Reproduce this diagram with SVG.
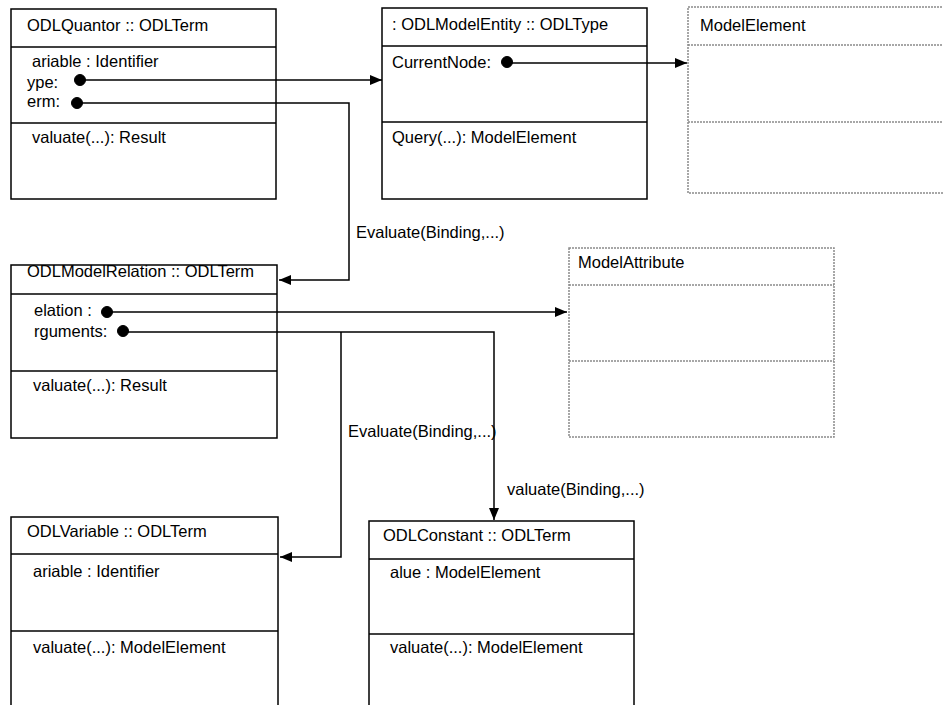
<svg xmlns="http://www.w3.org/2000/svg" width="943" height="705" viewBox="0 0 943 705">
<defs>
<style>
text{font-family:"Liberation Sans",Arial,sans-serif;font-size:16.5px;fill:#000}
.box{fill:#fff;stroke:#000;stroke-width:1.5}
.sep{stroke:#000;stroke-width:1.5}
.dbox{fill:#fff;stroke:#8a8a8a;stroke-width:1.5;stroke-dasharray:2 1}
.dsep{stroke:#8a8a8a;stroke-width:1.5;stroke-dasharray:2 1}
.conn{fill:none;stroke:#000;stroke-width:1.5}
.dot{fill:#000;stroke:#000;stroke-width:1}
</style>
<marker id="arr" markerUnits="userSpaceOnUse" markerWidth="12" markerHeight="10" refX="12" refY="5" orient="auto">
<path d="M0,0 L12,5 L0,10 Z" fill="#000"/>
</marker>
</defs>
<rect width="943" height="705" fill="#fff"/>

<g id="ODLQuantor">
<rect class="box" x="11" y="9" width="265" height="190"/>
<line class="sep" x1="11" y1="47" x2="276" y2="47"/>
<line class="sep" x1="11" y1="123" x2="276" y2="123"/>
<text x="27" y="31">ODLQuantor :: ODLTerm</text>
<text x="32" y="67">ariable : Identifier</text>
<text x="27" y="88">ype:</text>
<text x="27" y="107">erm:</text>
<text x="32" y="143">valuate(...): Result</text>
</g>

<g id="ODLModelEntity">
<rect class="box" x="382" y="8" width="265" height="191"/>
<line class="sep" x1="382" y1="46" x2="647" y2="46"/>
<line class="sep" x1="382" y1="122" x2="647" y2="122"/>
<text x="392" y="30">: ODLModelEntity :: ODLType</text>
<text x="392" y="68">CurrentNode:</text>
<text x="392" y="143">Query(...): ModelElement</text>
</g>

<g id="ModelElement">
<rect class="dbox" x="688" y="7" width="270" height="186"/>
<line class="dsep" x1="688" y1="45" x2="943" y2="45"/>
<line class="dsep" x1="688" y1="122" x2="943" y2="122"/>
<text x="700" y="31">ModelElement</text>
</g>

<g id="ODLModelRelation">
<rect class="box" x="11" y="265" width="266" height="173"/>
<line class="sep" x1="11" y1="294" x2="277" y2="294"/>
<line class="sep" x1="11" y1="371" x2="277" y2="371"/>
<text x="27" y="277">ODLModelRelation :: ODLTerm</text>
<text x="34" y="316">elation :</text>
<text x="34" y="337">rguments:</text>
<text x="33" y="391">valuate(...): Result</text>
</g>

<g id="ModelAttribute">
<rect class="dbox" x="569" y="248" width="265" height="189"/>
<line class="dsep" x1="569" y1="285" x2="834" y2="285"/>
<line class="dsep" x1="569" y1="361" x2="834" y2="361"/>
<text x="578" y="268">ModelAttribute</text>
</g>

<g id="ODLVariable">
<rect class="box" x="11" y="517" width="267" height="210"/>
<line class="sep" x1="11" y1="554" x2="278" y2="554"/>
<line class="sep" x1="11" y1="631" x2="278" y2="631"/>
<text x="27" y="537">ODLVariable :: ODLTerm</text>
<text x="33" y="577">ariable : Identifier</text>
<text x="33" y="653">valuate(...): ModelElement</text>
</g>

<g id="ODLConstant">
<rect class="box" x="369" y="521" width="265" height="210"/>
<line class="sep" x1="369" y1="559" x2="634" y2="559"/>
<line class="sep" x1="369" y1="634" x2="634" y2="634"/>
<text x="383" y="541">ODLConstant :: ODLTerm</text>
<text x="390" y="578">alue : ModelElement</text>
<text x="390" y="653">valuate(...): ModelElement</text>
</g>

<g id="connectors">
<path class="conn" d="M80,80 H382" marker-end="url(#arr)"/>
<path class="conn" d="M77,103 H349 V280 H279" marker-end="url(#arr)"/>
<path class="conn" d="M507,63 H687" marker-end="url(#arr)"/>
<path class="conn" d="M107,312 H567" marker-end="url(#arr)"/>
<path class="conn" d="M123,332 H494 V520" marker-end="url(#arr)"/>
<path class="conn" d="M341,332 V557 H280" marker-end="url(#arr)"/>
<circle class="dot" cx="80" cy="80" r="5.5"/>
<circle class="dot" cx="77" cy="103" r="5.5"/>
<circle class="dot" cx="507" cy="62" r="5.5"/>
<circle class="dot" cx="107" cy="312" r="5.5"/>
<circle class="dot" cx="123" cy="331" r="5.5"/>
<text x="356" y="238">Evaluate(Binding,...)</text>
<text x="348" y="437">Evaluate(Binding,...)</text>
<text x="507" y="495">valuate(Binding,...)</text>
</g>
</svg>
